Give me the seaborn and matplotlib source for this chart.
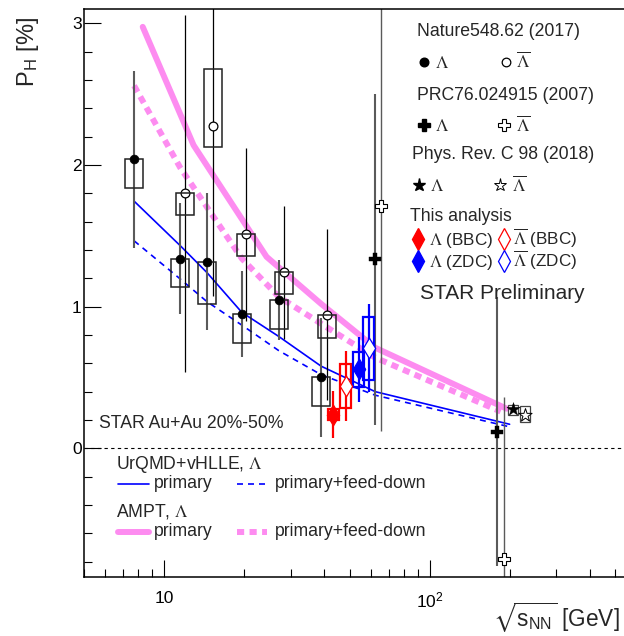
import matplotlib
matplotlib.use("Agg")
import matplotlib.pyplot as plt
from matplotlib.patches import Rectangle
from matplotlib.ticker import FixedLocator, LogLocator, MultipleLocator, NullFormatter
import seaborn as sns

# ---- data ----
# Nature 548, 62 (2017): Lambda
nat_lam_e = [7.7, 11.5, 14.5, 19.6, 27, 39]
nat_lam_p = [2.04, 1.34, 1.317, 0.948, 1.047, 0.501]
nat_lam_err = [0.625, 0.395, 0.483, 0.303, 0.28, 0.42]
nat_lam_sys_lo = [1.835, 1.14, 1.016, 0.745, 0.842, 0.299]
nat_lam_sys_hi = [2.04, 1.34, 1.317, 0.948, 1.047, 0.501]

# Nature 548, 62 (2017): anti-Lambda (shifted in energy)
nat_alam_e = [12.0, 15.3, 20.4, 28.2, 40.9]
nat_alam_p = [1.80, 2.275, 1.512, 1.242, 0.943]
nat_alam_err = [1.26, 1.2, 0.61, 0.47, 0.605]
nat_alam_sys_lo = [1.646, 2.124, 1.36, 1.089, 0.78]
nat_alam_sys_hi = [1.80, 2.675, 1.512, 1.242, 0.943]

# PRC 76, 024915 (2007)
prc_lam_e = [62.2, 178.6]
prc_lam_p = [1.334, 0.117]
prc_lam_err = [1.17, 0.95]
prc_alam_e = [65.3, 189.8]
prc_alam_p = [1.71, -0.78]
prc_alam_err = [1.59, 1.14]

# Phys. Rev. C 98 (2018)
prc98_lam_e = [206.3]
prc98_lam_p = [0.275]
prc98_lam_sys_lo = [0.235]
prc98_lam_sys_hi = [0.306]
prc98_alam_e = [228.4]
prc98_alam_p = [0.235]
prc98_alam_sys_lo = [0.188]
prc98_alam_sys_hi = [0.299]

# This analysis
bbc_lam_e = [43.3]
bbc_lam_p = [0.237]
bbc_lam_err = [0.166]
bbc_lam_sys_lo = [0.20]
bbc_lam_sys_hi = [0.275]
bbc_alam_e = [48.3]
bbc_alam_p = [0.44]
bbc_alam_err = [0.246]
bbc_alam_sys_lo = [0.287]
bbc_alam_sys_hi = [0.593]
zdc_lam_e = [54.1]
zdc_lam_p = [0.557]
zdc_lam_err = [0.229]
zdc_lam_sys_lo = [0.43]
zdc_lam_sys_hi = [0.677]
zdc_alam_e = [59.0]
zdc_alam_p = [0.706]
zdc_alam_err = [0.31]
zdc_alam_sys_lo = [0.482]
zdc_alam_sys_hi = [0.929]

# model curves
urqmd_e = [7.7, 11.5, 14.5, 19.6, 27, 39, 62.4, 200]
urqmd_prim = [1.745, 1.43, 1.24, 0.96, 0.79, 0.58, 0.40, 0.17]
urqmd_fd = [1.465, 1.195, 1.035, 0.87, 0.69, 0.52, 0.375, 0.152]
ampt_prim_e = [8.3, 12.9, 24.3, 39, 62.4, 195]
ampt_prim = [2.975, 2.14, 1.352, 1.02, 0.71, 0.28]
ampt_fd_e = [7.7, 11.5, 19.6, 27, 39, 62.4, 185]
ampt_fd = [2.56, 1.98, 1.34, 1.07, 0.88, 0.64, 0.26]

PINK = "#fd8cf0"
GREY = "#5a5a5a"

sns.set_theme(style="ticks")
plt.rcParams["font.family"] = ["Liberation Sans", "DejaVu Sans"]
plt.rcParams["mathtext.fontset"] = "stix"

W, H = 624, 636
fig = plt.figure(figsize=(W / 100, H / 100), dpi=100)
ax = fig.add_axes([84.3 / W, (H - 577) / H, (W - 84.3) / W, 567.7 / H])
ax.set_xscale("log")


def boxes(e, lo, hi, half, color, lw=1.1, z=4):
    for x, a, b in zip(e, lo, hi):
        x0, x1 = x * 10 ** (-half), x * 10 ** half
        ax.add_patch(Rectangle((x0, a), x1 - x0, b - a, fill=False,
                               edgecolor=color, linewidth=lw, zorder=z))


def errs(e, p, err, color, lw):
    lo = [v - d for v, d in zip(p, err)]
    hi = [v + d for v, d in zip(p, err)]
    ax.vlines(e, lo, hi, colors=color, linewidth=lw, zorder=2)


# zero line
ax.axhline(0, color="black", lw=0.8, ls=(0, (3, 3)), zorder=1)

# models
sns.lineplot(x=ampt_prim_e, y=ampt_prim, color=PINK, linewidth=4.3, ax=ax, zorder=1)
sns.lineplot(x=ampt_fd_e, y=ampt_fd, color=PINK, linewidth=4.3,
             linestyle=(0, (1.2, 0.9)), ax=ax, zorder=1)
sns.lineplot(x=urqmd_e, y=urqmd_prim, color="blue", linewidth=1.2, ax=ax, zorder=1)
sns.lineplot(x=urqmd_e, y=urqmd_fd, color="blue", linewidth=1.2,
             linestyle=(0, (3.6, 3)), ax=ax, zorder=1)

# Nature
errs(nat_lam_e, nat_lam_p, nat_lam_err, GREY, 1.5)
errs(nat_alam_e, nat_alam_p, nat_alam_err, "black", 0.9)
boxes(nat_lam_e, nat_lam_sys_lo, nat_lam_sys_hi, 0.034, "#222222")
boxes(nat_alam_e, nat_alam_sys_lo, nat_alam_sys_hi, 0.034, "#222222")
sns.scatterplot(x=nat_lam_e, y=nat_lam_p, marker="o", s=40, color="black",
                edgecolor="black", linewidth=0.5, ax=ax, zorder=5)
sns.scatterplot(x=nat_alam_e, y=nat_alam_p, marker="o", s=40, color="white",
                edgecolor="black", linewidth=0.9, ax=ax, zorder=3)

# PRC 2007
errs(prc_lam_e, prc_lam_p, prc_lam_err, GREY, 1.5)
errs(prc_alam_e, prc_alam_p, prc_alam_err, GREY, 1.0)
sns.scatterplot(x=prc_lam_e, y=prc_lam_p, marker="P", s=70, color="black",
                edgecolor="black", linewidth=0.3, ax=ax, zorder=5)
sns.scatterplot(x=prc_alam_e, y=prc_alam_p, marker="P", s=70, color="white",
                edgecolor="black", linewidth=0.8, ax=ax, zorder=5)

# PRC 98 (2018)
boxes(prc98_lam_e, prc98_lam_sys_lo, prc98_lam_sys_hi, 0.02, "#444444", 0.9)
boxes(prc98_alam_e, prc98_alam_sys_lo, prc98_alam_sys_hi, 0.02, "#444444", 0.9)
sns.scatterplot(x=prc98_lam_e, y=prc98_lam_p, marker="*", s=100, color="black",
                edgecolor="black", linewidth=0.3, ax=ax, zorder=5)
sns.scatterplot(x=prc98_alam_e, y=prc98_alam_p, marker="*", s=100, color="white",
                edgecolor="black", linewidth=0.7, ax=ax, zorder=5)

# this analysis
for e, p, err, lo, hi, col, face in [
    (bbc_lam_e, bbc_lam_p, bbc_lam_err, bbc_lam_sys_lo, bbc_lam_sys_hi, "red", "red"),
    (bbc_alam_e, bbc_alam_p, bbc_alam_err, bbc_alam_sys_lo, bbc_alam_sys_hi, "red", "white"),
    (zdc_lam_e, zdc_lam_p, zdc_lam_err, zdc_lam_sys_lo, zdc_lam_sys_hi, "blue", "blue"),
    (zdc_alam_e, zdc_alam_p, zdc_alam_err, zdc_alam_sys_lo, zdc_alam_sys_hi, "blue", "white"),
]:
    errs(e, p, err, col, 1.6)
    boxes(e, lo, hi, 0.0205, col, lw=1.6, z=3)
    sns.scatterplot(x=e, y=p, marker="d", s=110, color=face, edgecolor=col,
                    linewidth=0.9, ax=ax, zorder=5)

# axes
ax.set_xlim(5, 539.5)
ax.set_ylim(-0.908, 3.099)
ax.xaxis.set_major_locator(FixedLocator([10, 100]))
ax.set_xticklabels(["10", r"$\mathregular{10^{2}}$"])
ax.xaxis.set_minor_locator(LogLocator(base=10, subs=range(2, 10)))
ax.xaxis.set_minor_formatter(NullFormatter())
ax.yaxis.set_major_locator(FixedLocator([0, 1, 2, 3]))
ax.yaxis.set_minor_locator(MultipleLocator(0.2))
ax.tick_params(which="both", direction="in", top=False, right=False,
               width=0.8, color="black", labelsize=12.5, labelcolor="black")
ax.tick_params(which="major", length=12.2)
ax.tick_params(which="minor", length=6.1)
ax.tick_params(axis="x", which="major", pad=10)
ax.tick_params(axis="y", which="major", pad=2)
for s in ["left", "bottom", "top"]:
    ax.spines[s].set_linewidth(1.1)
    ax.spines[s].set_color("black")
ax.spines["right"].set_visible(False)
ax.set_xlabel("")
ax.set_ylabel("")


def fx(px):
    return px / W


def fy(py):
    return 1 - py / H


fig.text(fx(28), fy(52), r"P$_{\mathregular{H}}$ [%]", rotation=90, fontsize=17,
         ha="center", va="center")
fig.text(fx(620), fy(618), r"$\sqrt{\mathregular{s}_{\mathregular{NN}}}$ [GeV]",
         fontsize=16.3, ha="right", va="center")

FS = 12.7
LAM = r"$\Lambda$"
ALAM = r"$\overline{\Lambda}$"


def txt(px, py, s, size=FS):
    fig.text(fx(px), fy(py), s, fontsize=size, ha="left", va="baseline")


def mark(px, py, **kw):
    ax.plot([fx(px)], [fy(py)], transform=fig.transFigure, clip_on=False, **kw)


# legend, upper right
txt(417.3, 36, "Nature548.62 (2017)")
mark(424, 61.7, marker="o", ms=6.2, color="black", ls="none")
txt(435, 67.5, LAM)
mark(506, 61.7, marker="o", ms=6.2, mfc="white", mec="black", mew=0.9, ls="none")
txt(516, 67.5, ALAM)
txt(417.3, 99.5, "PRC76.024915 (2007)")
mark(424, 125, marker="P", ms=8.4, color="black", ls="none")
txt(435, 131, LAM)
mark(504, 125, marker="P", ms=8.4, mfc="white", mec="black", mew=0.8, ls="none")
txt(516, 131, ALAM)
txt(411.7, 158.7, "Phys. Rev. C 98 (2018)")
mark(419.3, 185, marker="*", ms=9.5, color="black", ls="none")
txt(429.5, 191, LAM)
mark(500, 185, marker="*", ms=9.5, mfc="white", mec="black", mew=0.7, ls="none")
txt(512.5, 191, ALAM)
txt(410, 221, "This analysis")
mark(418.3, 239.3, marker="d", ms=11, color="red", ls="none")
txt(429, 245.3, LAM + " (BBC)", 12.3)
mark(504, 239.3, marker="d", ms=11, mfc="white", mec="red", mew=0.9, ls="none")
txt(513, 245.3, ALAM + " (BBC)", 12.3)
mark(418.3, 261, marker="d", ms=11, color="blue", ls="none")
txt(429, 267, LAM + " (ZDC)", 12.3)
mark(504, 261, marker="d", ms=11, mfc="white", mec="blue", mew=0.9, ls="none")
txt(513, 267, ALAM + " (ZDC)", 12.3)
txt(420, 299, "STAR Preliminary", size=15)

# lower left
txt(99, 428.5, "STAR Au+Au 20%-50%")
txt(115.7, 469, "UrQMD+vHLLE, " + LAM)
ax.plot([fx(118.3), fx(149)], [fy(484.3)] * 2, transform=fig.transFigure,
        clip_on=False, color="blue", lw=1.2)
txt(154, 488.3, "primary")
ax.plot([fx(237.3), fx(266.7)], [fy(484.3)] * 2, transform=fig.transFigure,
        clip_on=False, color="blue", lw=1.2, ls=(0, (3.6, 3)))
txt(274.7, 488.3, "primary+feed-down")
txt(115.7, 516.7, "AMPT, " + LAM)
ax.plot([fx(118.3), fx(149)], [fy(531.7)] * 2, transform=fig.transFigure,
        clip_on=False, color=PINK, lw=4.3)
txt(154, 536, "primary")
ax.plot([fx(237.3), fx(266.7)], [fy(531.7)] * 2, transform=fig.transFigure,
        clip_on=False, color=PINK, lw=4.3, ls=(0, (1.2, 0.9)))
txt(274.7, 536, "primary+feed-down")

fig.savefig("out.png", dpi=100)
